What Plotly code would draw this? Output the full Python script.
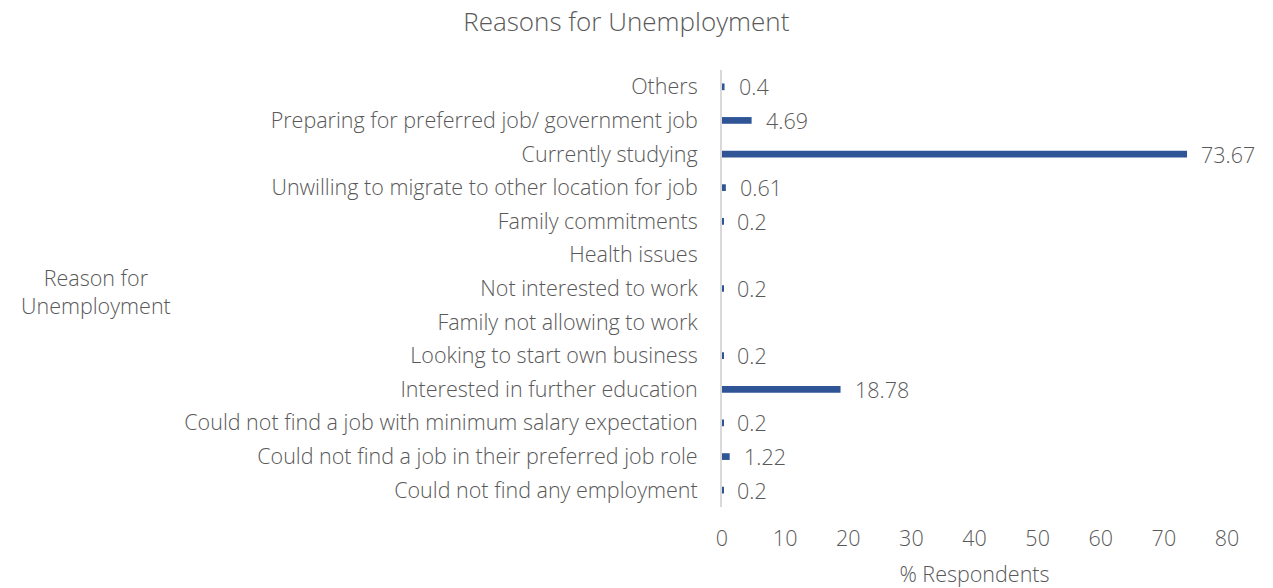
import plotly.graph_objects as go

# Reasons listed top to bottom
reasons = [
    "Others",
    "Preparing for preferred job/ government job",
    "Currently studying",
    "Unwilling to migrate to other location for job",
    "Family commitments",
    "Health issues",
    "Not interested to work",
    "Family not allowing to work",
    "Looking to start own business",
    "Interested in further education",
    "Could not find a job with minimum salary expectation",
    "Could not find a job in their preferred job role",
    "Could not find any employment",
]
percent = [0.4, 4.69, 73.67, 0.61, 0.2, None, 0.2, None, 0.2, 18.78, 0.2, 1.22, 0.2]
value_labels = ["0.4", "4.69", "73.67", "0.61", "0.2", "", "0.2", "", "0.2", "18.78", "0.2", "1.22", "0.2"]
x_ticks = [0, 10, 20, 30, 40, 50, 60, 70, 80]

FONT = "Open Sans"
GREY = "#595959"
BAR = "#2F5597"
FS = 21.5
W = 300

fig = go.Figure()
fig.add_trace(go.Bar(
    x=percent,
    y=reasons,
    orientation="h",
    width=0.2,
    marker=dict(color=BAR, line=dict(width=0)),
    hoverinfo="x+y",
))

for r, v, t in zip(reasons, percent, value_labels):
    if v is None:
        continue
    fig.add_annotation(
        x=v, y=r, text=t, showarrow=False, xanchor="left", xshift=12,
        font=dict(family=FONT, size=FS, color=GREY, weight=W),
    )

pw = 1273 - 722 - 46
ph = 588 - 70 - 81
fig.add_annotation(
    text="Reason for<br>Unemployment",
    x=(96 - 722) / pw, y=(588 - 81 - 291) / ph, xref="paper", yref="paper",
    xanchor="center", yanchor="middle", showarrow=False,
    font=dict(family=FONT, size=FS, color=GREY, weight=W),
)

fig.update_layout(
    width=1273, height=588,
    margin=dict(l=722, r=46, t=70, b=81, autoexpand=False),
    paper_bgcolor="white", plot_bgcolor="white",
    showlegend=False,
    title=dict(text="Reasons for Unemployment", x=0.492, xanchor="center", y=0.963, yanchor="middle",
               font=dict(family=FONT, size=26, color=GREY, weight=W)),
    font=dict(family=FONT, color=GREY, weight=W),
    xaxis=dict(
        range=[0, 80], tickvals=x_ticks, showgrid=False, zeroline=False, showline=False,
        automargin=False,
        ticks="outside", ticklen=12, tickcolor="rgba(0,0,0,0)",
        tickfont=dict(family=FONT, size=FS, color=GREY, weight=W),
        title=dict(text="% Respondents", font=dict(family=FONT, size=FS, color=GREY, weight=W), standoff=18),
    ),
    yaxis=dict(
        categoryorder="array", categoryarray=reasons[::-1],
        showgrid=False, zeroline=False, showline=True, linecolor="#D9D9D9", linewidth=2,
        automargin=False,
        ticks="outside", ticklen=18, tickcolor="rgba(0,0,0,0)",
        tickfont=dict(family=FONT, size=FS, color=GREY, weight=W),
    ),
)

fig.write_html("out.html")
